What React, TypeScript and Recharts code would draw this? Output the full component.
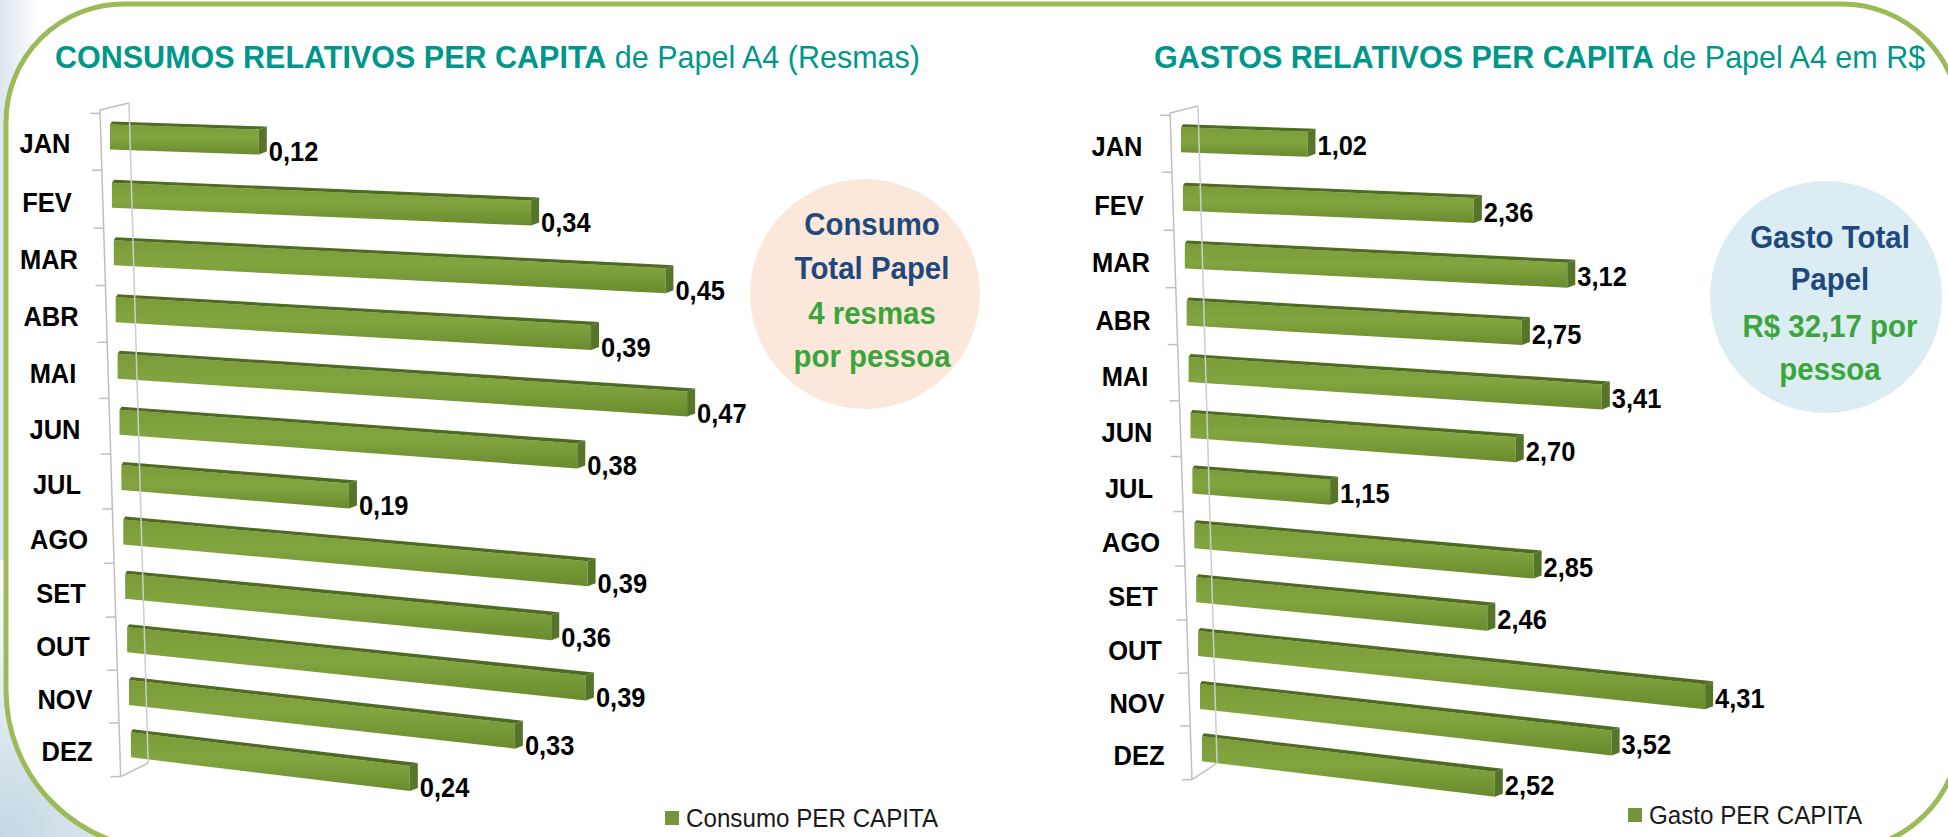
import React from "react";
import { BarChart, Bar, XAxis, YAxis, LabelList } from "recharts";

const months = ["JAN", "FEV", "MAR", "ABR", "MAI", "JUN", "JUL", "AGO", "SET", "OUT", "NOV", "DEZ"];
const consumo = [0.12, 0.34, 0.45, 0.39, 0.47, 0.38, 0.19, 0.39, 0.36, 0.39, 0.33, 0.24];
const gasto = [1.02, 2.36, 3.12, 2.75, 3.41, 2.7, 1.15, 2.85, 2.46, 4.31, 3.52, 2.52];

const consumoData = months.map((m, i) => ({ month: m, value: consumo[i] }));
const gastoData = months.map((m, i) => ({ month: m, value: gasto[i] }));

const FONT = '"Liberation Sans", Arial, sans-serif';
const TEAL = "#00968A";
const NAVY = "#1F497D";
const GREEN_TXT = "#3AA53A";
const BORDER = "#9BBB59";
const SQUEEZE = 0.91; // labels in the original look a bit condensed

// fake 3D perspective, tuned by eye
const slopeAt = (i: number) => 0.035 + 0.0078 * i;
const shiftAt = (i: number) => 1.9 * i;
const depthAt = (i: number) => 1 - 0.0057 * i;
// rows get closer together towards the bottom
const sagAt = (i: number) => {
  const t = Math.min(1, Math.max(0, i / (months.length - 1)));
  return 36 * t * (1 - t);
};
const fmt = (v: number) => v.toFixed(2).replace(".", ",");

const idxOf = (p: any) => {
  if (typeof p.index === "number") return p.index;
  const m = p.payload?.month ?? p.payload?.value;
  return Math.max(0, months.indexOf(m));
};

function NarrowText({ x, y, anchor = "start", size, children, fill = "#000", weight = "bold" }: any) {
  return (
    <text
      transform={`translate(${x},${y}) scale(${SQUEEZE},1)`}
      textAnchor={anchor}
      dominantBaseline="central"
      fontFamily={FONT}
      fontWeight={weight}
      fontSize={size}
      fill={fill}
    >
      {children}
    </text>
  );
}

function Bar3D(props: any) {
  const { x, y, width, height } = props;
  const i = idxOf(props);
  const w = width * depthAt(i);
  const x0 = x + shiftAt(i);
  const x1 = x0 + w;
  const y0 = y + sagAt(i);
  const y1 = y0 + slopeAt(i) * w;
  const h = height;
  const d = 3;
  const cap = 8;
  return (
    <g>
      <polygon points={`${x0},${y0} ${x1},${y1} ${x1},${y1 + h} ${x0},${y0 + h}`} fill="url(#barFace)" />
      <polygon points={`${x0 + 2},${y0 - d} ${x1 + cap},${y1 - d} ${x1},${y1} ${x0},${y0}`} fill="#4F6B20" />
      <polygon points={`${x1},${y1} ${x1 + cap},${y1 - d} ${x1 + cap},${y1 + h - d} ${x1},${y1 + h}`} fill="#56742A" />
    </g>
  );
}

const valueLabel = (dy: number) => (props: any) => {
  const vb = props.viewBox || {};
  const x = props.x ?? vb.x;
  const y = props.y ?? vb.y;
  const width = props.width ?? vb.width;
  let i = props.index;
  if (typeof i !== "number") i = 0;
  const w = width * depthAt(i);
  const x1 = x + shiftAt(i) + w;
  const y1 = y + sagAt(i) + slopeAt(i) * w;
  return (
    <NarrowText x={x1 + 10} y={y1 + dy} size={28}>
      {fmt(Number(props.value))}
    </NarrowText>
  );
};

type Wall = { fx0: number; fy0: number; fs: number; bx0: number; by0: number; bs: number; bBottom: number; labelX: number; band: number; tickOff: number };

const monthTick = (wall: Wall) => (props: any) => {
  const { y, payload } = props;
  const i = Math.max(0, months.indexOf(payload.value));
  const fx = (yy: number) => wall.fx0 + (yy - wall.fy0) * wall.fs;
  const bx = (yy: number) => wall.bx0 + (yy - wall.by0) * wall.bs;
  const yb = y - wall.band / 2 + wall.tickOff + sagAt(i - 0.5);
  const ye = y + wall.band / 2 + wall.tickOff + sagAt(i + 0.5);
  const grey = "#BFBFBF";
  return (
    <g>
      <line x1={fx(yb) - 10} y1={yb} x2={fx(yb)} y2={yb} stroke={grey} strokeWidth={1.5} />
      <line x1={fx(i === 0 ? wall.fy0 : yb)} y1={i === 0 ? wall.fy0 : yb} x2={fx(ye)} y2={ye} stroke={grey} strokeWidth={1.5} />
      {i === 0 && (
        <>
          <line x1={fx(wall.fy0)} y1={wall.fy0} x2={bx(wall.by0)} y2={wall.by0} stroke={grey} strokeWidth={1.5} />
          <line x1={bx(wall.by0)} y1={wall.by0} x2={bx(wall.bBottom)} y2={wall.bBottom} stroke="#CDCDCD" strokeWidth={1.5} />
        </>
      )}
      {i === months.length - 1 && (
        <>
          <line x1={fx(ye) - 10} y1={ye} x2={fx(ye)} y2={ye} stroke={grey} strokeWidth={1.5} />
          <line x1={fx(ye)} y1={ye} x2={bx(wall.bBottom)} y2={wall.bBottom} stroke={grey} strokeWidth={1.5} />
        </>
      )}
      <NarrowText x={wall.labelX + 2 * i} y={y + 7 + sagAt(i)} anchor="middle" size={28}>
        {payload.value}
      </NarrowText>
    </g>
  );
};

const barDefs = (
  <defs>
    <linearGradient id="barFace" x1="0" y1="0" x2="0" y2="1">
      <stop offset="0%" stopColor="#7A9B38" />
      <stop offset="45%" stopColor="#83A540" />
      <stop offset="100%" stopColor="#6A8B2D" />
    </linearGradient>
  </defs>
);

function ConsumoChart() {
  const band = (772.6 - 109.4) / 12;
  const wall: Wall = { fx0: 100, fy0: 110, fs: 0.031, bx0: 129, by0: 103, bs: 0.029, bBottom: 763, labelX: 45, band, tickOff: 4 };
  return (
    <BarChart width={900} height={837} data={consumoData} layout="vertical" margin={{ top: 109.4, bottom: 64.4, left: 0, right: 46 }} barCategoryGap={0}>
      {barDefs}
      <XAxis type="number" hide domain={[0, 0.6]} />
      <YAxis type="category" dataKey="month" width={110} axisLine={false} tickLine={false} tick={monthTick(wall)} interval={0} />
      <Bar dataKey="value" barSize={25} shape={Bar3D} isAnimationActive={false}>
        <LabelList dataKey="value" content={valueLabel(22)} />
      </Bar>
    </BarChart>
  );
}

function GastoChart() {
  const band = (776.7 - 112.3) / 12;
  const wall: Wall = { fx0: 170, fy0: 113, fs: 0.033, bx0: 198, by0: 106, bs: 0.029, bBottom: 763, labelX: 117, band, tickOff: 3 };
  return (
    <BarChart width={948} height={837} data={gastoData} layout="vertical" margin={{ top: 112.3, bottom: 60.3, left: 0, right: 147 }} barCategoryGap={0}>
      {barDefs}
      <XAxis type="number" hide domain={[0, 5]} />
      <YAxis type="category" dataKey="month" width={181} axisLine={false} tickLine={false} tick={monthTick(wall)} interval={0} />
      <Bar dataKey="value" barSize={25} shape={Bar3D} isAnimationActive={false}>
        <LabelList dataKey="value" content={valueLabel(14)} />
      </Bar>
    </BarChart>
  );
}

function LegendItem({ left, top, label }: { left: number; top: number; label: string }) {
  return (
    <div style={{ position: "absolute", left, top, height: 28, display: "flex", alignItems: "center", fontFamily: FONT, fontSize: 26, color: "#1A1A1A", whiteSpace: "nowrap" }}>
      <span style={{ display: "inline-block", width: 14, height: 14, background: "#77933C", marginRight: 7 }} />
      <span style={{ display: "inline-block", transform: "scaleX(0.93)", transformOrigin: "left center" }}>{label}</span>
    </div>
  );
}

const L = 6, T = 4, R = 1960, B = 850;
const rTL = 118, rTR = 118, rBR = 120, rBL = 160;
const frame = `M ${L + rTL} ${T} H ${R - rTR} A ${rTR} ${rTR} 0 0 1 ${R} ${T + rTR} V ${B - rBR} A ${rBR} ${rBR} 0 0 1 ${R - rBR} ${B} H ${L + rBL} A ${rBL} ${rBL} 0 0 1 ${L} ${B - rBL} V ${T + rTL} A ${rTL} ${rTL} 0 0 1 ${L + rTL} ${T} Z`;

function CircleLine({ x, y, fill, children }: any) {
  return (
    <text transform={`translate(${x},${y}) scale(0.92,1)`} textAnchor="middle" fontFamily={FONT} fontWeight="bold" fontSize={32} fill={fill}>
      {children}
    </text>
  );
}

export default function App() {
  return (
    <div style={{ position: "absolute", left: 0, top: 0, width: 1948, height: 837, overflow: "hidden", background: "#fff" }}>
      <svg width={1948} height={837} style={{ position: "absolute", left: 0, top: 0 }}>
        <defs>
          <radialGradient id="corner" cx="0" cy="837" r="260" gradientUnits="userSpaceOnUse">
            <stop offset="0%" stopColor="#C5D6E2" />
            <stop offset="100%" stopColor="#FFFFFF" />
          </radialGradient>
          <linearGradient id="leftStrip" x1="0" y1="0" x2="1" y2="0">
            <stop offset="0%" stopColor="#DCE6EE" />
            <stop offset="100%" stopColor="#FFFFFF" />
          </linearGradient>
        </defs>
        <rect x={0} y={0} width={40} height={837} fill="url(#leftStrip)" />
        <rect x={0} y={560} width={300} height={277} fill="url(#corner)" />
        <path d={frame} fill="#fff" stroke={BORDER} strokeWidth={5} />

        <text x={55} y={68} fontFamily={FONT} fontSize={30.5} fill={TEAL}>
          <tspan fontWeight="bold">CONSUMOS RELATIVOS PER CAPITA</tspan>
          <tspan> de Papel A4 (Resmas)</tspan>
        </text>
        <text x={1154} y={68} fontFamily={FONT} fontSize={30.5} fill={TEAL}>
          <tspan fontWeight="bold">GASTOS RELATIVOS PER CAPITA</tspan>
          <tspan> de Papel A4 em R$</tspan>
        </text>

        <circle cx={865} cy={294} r={115} fill="#FCE8DA" />
        <CircleLine x={872} y={235} fill={NAVY}>Consumo</CircleLine>
        <CircleLine x={872} y={279} fill={NAVY}>Total Papel</CircleLine>
        <CircleLine x={872} y={324} fill={GREEN_TXT}>4 resmas</CircleLine>
        <CircleLine x={872} y={367} fill={GREEN_TXT}>por pessoa</CircleLine>

        <circle cx={1826} cy={297} r={116} fill="#DBEDF3" />
        <CircleLine x={1830} y={248} fill={NAVY}>Gasto Total</CircleLine>
        <CircleLine x={1830} y={290} fill={NAVY}>Papel</CircleLine>
        <CircleLine x={1830} y={337} fill={GREEN_TXT}>R$ 32,17 por</CircleLine>
        <CircleLine x={1830} y={380} fill={GREEN_TXT}>pessoa</CircleLine>
      </svg>

      <div style={{ position: "absolute", left: 0, top: 0 }}>
        <ConsumoChart />
      </div>
      <div style={{ position: "absolute", left: 1000, top: 0 }}>
        <GastoChart />
      </div>

      <LegendItem left={665} top={804} label="Consumo PER CAPITA" />
      <LegendItem left={1628} top={801} label="Gasto PER CAPITA" />
    </div>
  );
}
